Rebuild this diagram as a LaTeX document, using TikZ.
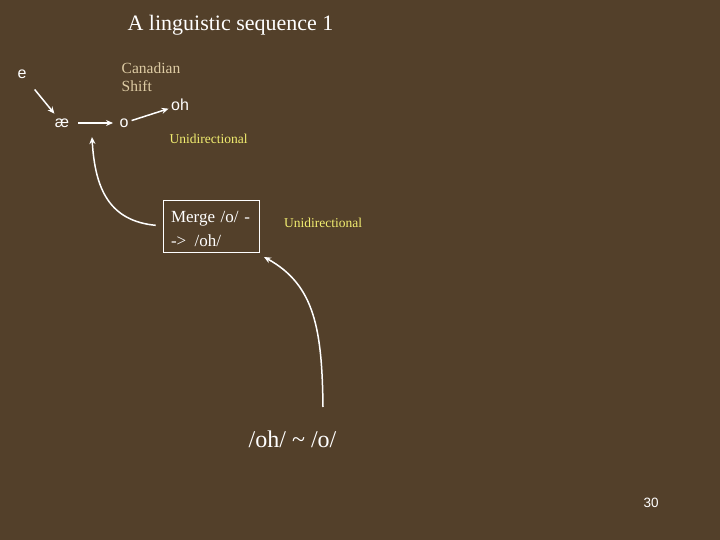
\documentclass[tikz,border=0pt]{standalone}
\usepackage{fontspec}
\setmainfont{Liberation Serif}
\newfontfamily\arialfont{Liberation Sans}
\usetikzlibrary{arrows.meta}
\definecolor{bg}{RGB}{83,64,42}
\definecolor{tan}{RGB}{222,204,164}
\definecolor{uniyellow}{RGB}{242,238,112}
\tikzset{
  sym/.style={text=white, font=\arialfont\fontsize{16}{18}\selectfont, inner sep=0pt},
  lbl/.style={text=uniyellow, font=\fontsize{13.5}{15}\selectfont, inner sep=0pt},
  arr/.style={white, line width=1.5pt, -{Stealth[length=7pt,width=6pt]}},
}
\begin{document}
\begin{tikzpicture}[x=1pt,y=-1pt]
\fill[bg] (0,0) rectangle (720,540);
\useasboundingbox (0,0) rectangle (720,540);
\node[text=white, font=\fontsize{22}{26}\selectfont, inner sep=0pt] (title) at (230.5,25) {A linguistic sequence 1};
\node[sym] (e) at (22,74) {e};
\node[sym] (ae) at (62,123) {æ};
\node[sym] (o) at (124,123) {o};
\node[sym] (oh) at (180,105) {oh};
\node[text=tan, font=\fontsize{15.5}{18}\selectfont, align=left, inner sep=0pt] (cs) at (151,77) {Canadian\\Shift};
\node[lbl] (u1) at (208.5,139) {Unidirectional};
\node[draw=white, line width=0.6pt, minimum width=96pt, minimum height=52pt, inner sep=0pt] (merge) at (211,226) {};
\node[text=white, text width=84pt, align=left, inner sep=0pt, font=\fontsize{17}{24}\selectfont] (mergetxt) at (213,228.5) {Merge /o/ -\\-> \,/oh/};
\node[lbl] (u2) at (323,223) {Unidirectional};
\node[text=white, font=\fontsize{24}{28}\selectfont, inner sep=0pt] (oho) at (292.5,439) {/oh/ \textasciitilde\ /o/};
\node[text=white, font=\arialfont\fontsize{13.5}{16}\selectfont, inner sep=0pt] (num) at (651,503) {30};
\coordinate (t1) at (92,137);
\coordinate (t2) at (264,257);
\coordinate (s2) at (323,407);
\draw[arr, shorten <=20pt, shorten >=12pt] (e.center) -- (ae.center);
\draw[arr, shorten <=16pt, shorten >=11pt] (ae.center) -- (o.center);
\draw[arr, shorten <=8pt, shorten >=12pt] (o.center) -- (oh.center);
\draw[arr, shorten <=7pt] (merge.west) .. controls (110,221) and (95,190) .. (t1);
\draw[arr] (s2) .. controls (322,330) and (315,285) .. (t2);
\end{tikzpicture}
\end{document}
